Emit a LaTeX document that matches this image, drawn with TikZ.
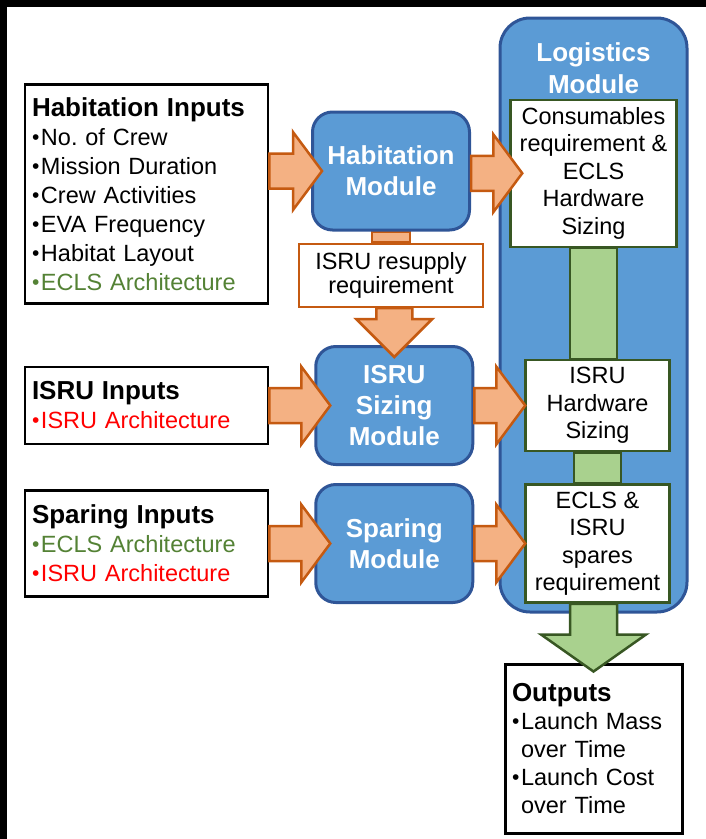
\documentclass[tikz,border=0pt]{standalone}
\usepackage{fontspec}
\setmainfont{Liberation Sans}
\usetikzlibrary{calc, positioning, backgrounds}

\definecolor{modblue}{HTML}{5B9BD5}
\definecolor{modline}{HTML}{2F5597}
\definecolor{orfill}{HTML}{F4B183}
\definecolor{orline}{HTML}{C55A11}
\definecolor{grfill}{HTML}{A9D18E}
\definecolor{grline}{HTML}{385723}
\definecolor{eclsgreen}{HTML}{548235}
\definecolor{isrured}{HTML}{FF0000}

\frenchspacing
% bold heading inside an input box
\newcommand{\hd}[1]{{\fontsize{26}{29}\selectfont\bfseries #1}}
% small bullet in front of a list line
\newcommand{\bul}{\makebox[9pt][l]{\raisebox{1pt}{\fontsize{21}{21}\selectfont •}}}
% block arrow pointing right: shaft from #1, tip at #2
\newcommand{\hfat}[2]{%
  \draw[fatarr] let \p1=(#1), \p2=(#2) in
    (\x1,\y2+17.5pt) -- (\x2-29pt,\y2+17.5pt) -- (\x2-29pt,\y2+39pt) -- (\x2,\y2)
    -- (\x2-29pt,\y2-39pt) -- (\x2-29pt,\y2-17.5pt) -- (\x1,\y2-17.5pt) -- cycle;}
% block arrow pointing down: from #1, tip at #2, half shaft #3, half head #4, head length #5
\newcommand{\vfat}[6]{%
  \draw[#6] let \p1=(#1), \p2=(#2) in
    (\x2-#3pt,\y1) -- (\x2-#3pt,\y2+#5pt) -- (\x2-#4pt,\y2+#5pt) -- (\x2,\y2)
    -- (\x2+#4pt,\y2+#5pt) -- (\x2+#3pt,\y2+#5pt) -- (\x2+#3pt,\y1) -- cycle;}

\begin{document}
\begin{tikzpicture}[x=1pt, y=-1pt,
  inbox/.style={draw, line width=2.5pt, fill=white, align=left, inner xsep=7pt,
                inner ysep=0pt, font=\fontsize{23.5}{29}\selectfont},
  module/.style={draw=modline, fill=modblue, line width=3pt, rounded corners=20pt,
                 align=center, text=white, font=\fontsize{26}{31}\selectfont\bfseries,
                 minimum width=157pt, minimum height=118pt},
  logbox/.style={draw=grline, fill=white, line width=2.5pt, align=center,
                 minimum width=144pt, font=\fontsize{23.5}{27.5}\selectfont},
  fatarr/.style={draw=orline, fill=orfill, line width=2.5pt},
  grarr/.style={draw=grline, fill=grfill, line width=2.5pt}
]
  \path[use as bounding box] (0,0) rectangle (706,839);
  \fill[black] (0,0) rectangle (706,7);
  \fill[black] (0,0) rectangle (7,839);

  % inputs, left column
  \node[inbox, text width=229pt, minimum height=219pt] (habin) at (146.5,194)
    {\hd{Habitation Inputs}\\\bul No. of Crew\\\bul Mission Duration\\\bul Crew Activities\\
     \bul EVA Frequency\\\bul Habitat Layout\\{\color{eclsgreen}\bul ECLS Architecture}};
  \node[inbox, text width=229pt, minimum height=77pt, below=61pt of habin] (isruin)
    {\hd{ISRU Inputs}\\{\color{isrured}\bul ISRU Architecture}};
  \node[inbox, text width=229pt, minimum height=106pt, below=44pt of isruin] (sparin)
    {\hd{Sparing Inputs}\\{\color{eclsgreen}\bul ECLS Architecture}\\{\color{isrured}\bul ISRU Architecture}};

  % modules, middle column
  \node[module] (habmod) at (391,171) {Habitation\\Module};
  \node[module, right=45pt of isruin] (isrumod) {ISRU\\Sizing\\Module};
  \node[module, right=45pt of sparin] (sparmod) {Sparing\\Module};
  \node[draw=orline, fill=white, line width=2.5pt, align=center, minimum width=184pt,
        minimum height=63pt, font=\fontsize{23.5}{24}\selectfont, below=11pt of habmod]
        (resupply) {ISRU resupply\\requirement};

  % logistics module, right column
  \node[module, rounded corners=30pt, minimum width=187pt, minimum height=594pt]
    (logi) at (593.5,315) {};
  \node[text=white, align=center, font=\fontsize{26}{32}\selectfont\bfseries]
    (logititle) at ([yshift=-52pt]logi.north) {Logistics\\Module};
  \node[logbox, minimum width=166pt, minimum height=147pt, below=82pt of logi.north]
    (cons) {Consumables\\requirement \&\\ECLS\\Hardware\\Sizing};
  \node[logbox, minimum height=91pt, right=50pt of isrumod] (isruhw) {ISRU\\Hardware\\Sizing};
  \node[logbox, minimum height=118pt, right=50pt of sparmod] (spares)
    {ECLS \&\\ISRU\\spares\\requirement};
  \node[inbox, text width=163pt, minimum height=169pt, line width=3pt,
        font=\fontsize{23.5}{28}\selectfont, below=49pt of logi] (outputs)
    {\hd{Outputs}\\\bul Launch Mass\\\hspace*{9pt}over Time\\\bul Launch Cost\\\hspace*{9pt}over Time};

  % arrows
  \begin{scope}[on background layer]
    \draw[fatarr] ([xshift=-19pt]habmod.south) rectangle ([xshift=19pt]resupply.north);
  \end{scope}
  \vfat{resupply.south}{[yshift=-12pt]isrumod.north}{18}{38}{38}{fatarr}
  \hfat{habin.east}{[xshift=11pt]habmod.west}
  \hfat{habmod.east}{[xshift=13pt]cons.west}
  \hfat{isruin.east}{[xshift=16pt]isrumod.west}
  \hfat{isrumod.east}{[xshift=1pt]isruhw.west}
  \hfat{sparin.east}{[xshift=16pt]sparmod.west}
  \hfat{sparmod.east}{[xshift=1pt]spares.west}

  \draw[grarr] ([xshift=-23.5pt]cons.south) rectangle ([xshift=23.5pt]cons.south |- isruhw.north);
  \draw[grarr] ([xshift=-23.5pt]isruhw.south) rectangle ([xshift=23.5pt]isruhw.south |- spares.north);
  \vfat{spares.south}{[yshift=-9pt]outputs.north}{23.5}{52.5}{37}{grarr}
\end{tikzpicture}
\end{document}
